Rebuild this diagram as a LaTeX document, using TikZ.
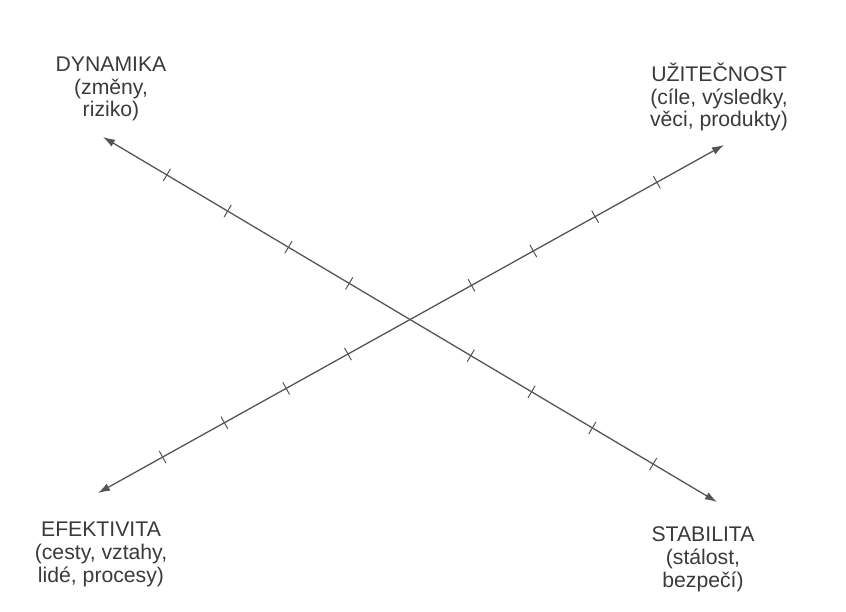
\documentclass[tikz,border=0pt]{standalone}
\usepackage{fontspec}
\setmainfont{Liberation Sans}
\usetikzlibrary{arrows.meta}
\definecolor{inkline}{HTML}{555555}
\definecolor{inktext}{HTML}{3A3A3A}
\tikzset{
  axisline/.style={draw=inkline, line width=1.3pt,
    {Latex[length=12pt,width=8pt]}-{Latex[length=12pt,width=8pt]}},
  tickmark/.style={draw=inkline, line width=1pt, shape=rectangle,
    minimum width=0pt, minimum height=14pt, inner sep=0pt, sloped},
  lbl/.style={text=inktext, align=center, inner sep=0pt,
    font=\fontsize{21.2pt}{22.8pt}\selectfont},
}
\begin{document}
\begin{tikzpicture}[x=1pt,y=-1pt]
\useasboundingbox (0,0) rectangle (846,612);
\coordinate (dyn) at (103,137);
\coordinate (sta) at (717,502);
\coordinate (efe) at (98,493);
\coordinate (uzi) at (724,145);
\draw[axisline] (dyn) -- (sta)
  \foreach \k [count=\i] in {-4,-3,-2,-1,1,2,3,4} {
    node[tickmark, pos={0.5+\k*0.099}] (ta\i) {}
  };
\draw[axisline] (efe) -- (uzi)
  \foreach \k [count=\i] in {-4,-3,-2,-1,1,2,3,4} {
    node[tickmark, pos={0.498+\k*0.0987}] (tb\i) {}
  };
\node[lbl, anchor=base] (ldyn) at (111,117) {DYNAMIKA\\(změny,\\riziko)};
\node[lbl, anchor=base] (luzi) at (719,127) {UŽITEČNOST\\(cíle, výsledky,\\věci, produkty)};
\node[lbl, anchor=base] (lefe) at (101,582) {EFEKTIVITA\\(cesty, vztahy,\\lidé, procesy)};
\node[lbl, anchor=base] (lsta) at (703,587) {STABILITA\\(stálost,\\bezpečí)};
\end{tikzpicture}
\end{document}
